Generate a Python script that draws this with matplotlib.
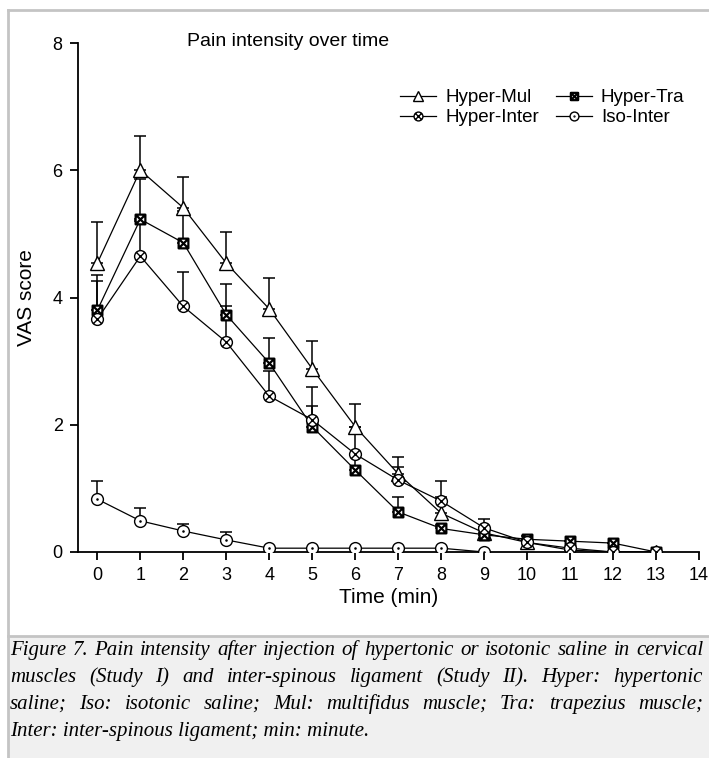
import numpy as np
import matplotlib
matplotlib.use("Agg")
import matplotlib.pyplot as plt
from matplotlib.path import Path
from matplotlib.patches import Rectangle
from matplotlib.lines import Line2D

# values
time_min = list(range(14))
iso_time = list(range(10))

hyper_mul = [4.54, 6.00, 5.41, 4.54, 3.82, 2.88, 1.97, 1.23, 0.61, 0.30, 0.15, 0.03, 0.00, 0.00]
hyper_mul_err = [0.65, 0.54, 0.49, 0.49, 0.49, 0.44, 0.36, 0.26, 0.25, 0.10, 0.05, 0.0, 0.0, 0.0]

hyper_tra = [3.80, 5.23, 4.86, 3.73, 2.97, 1.97, 1.29, 0.63, 0.37, 0.27, 0.20, 0.17, 0.14, 0.00]
hyper_tra_err = [0.55, 0.64, 0.50, 0.48, 0.40, 0.33, 0.25, 0.23, 0.05, 0.10, 0.05, 0.0, 0.0, 0.0]

hyper_inter = [3.66, 4.65, 3.86, 3.30, 2.45, 2.08, 1.54, 1.13, 0.80, 0.38, 0.15, 0.06, 0.00, 0.00]
hyper_inter_err = [0.60, 0.55, 0.54, 0.57, 0.40, 0.52, 0.43, 0.20, 0.32, 0.14, 0.05, 0.0, 0.0, 0.0]

iso_inter = [0.83, 0.49, 0.33, 0.19, 0.06, 0.06, 0.06, 0.06, 0.06, 0.00]
iso_inter_err = [0.29, 0.20, 0.11, 0.13, 0.0, 0.0, 0.0, 0.0, 0.0, 0.0]

caption_lines = [
    "Figure 7. Pain intensity after injection of hypertonic or isotonic saline in cervical",
    "muscles (Study I) and inter-spinous ligament (Study II).  Hyper: hypertonic",
    "saline; Iso: isotonic saline; Mul: multifidus muscle; Tra: trapezius muscle;",
    "Inter: inter-spinous ligament; min: minute.",
]

plt.rcParams["font.family"] = ["Liberation Sans", "DejaVu Sans"]

W, H = 709, 758
fig = plt.figure(figsize=(W / 100, H / 100), dpi=100)


def px(x, y):
    return x / W, 1 - y / H


# marker shapes: boxed x, circled x, circle with a dot
M, L, C = Path.MOVETO, Path.LINETO, Path.CLOSEPOLY
box_x = Path(
    [(-1, -1), (1, -1), (1, 1), (-1, 1), (-1, -1), (-1, -1), (1, 1), (-1, 1), (1, -1)],
    [M, L, L, L, C, M, L, M, L],
)
r = 0.7071
circ_x = Path.make_compound_path(
    Path.unit_circle(),
    Path([(-r, -r), (r, r), (-r, r), (r, -r)], [M, L, M, L]),
)
circ_dot = Path.make_compound_path(Path.unit_circle(), Path.circle((0, 0), 0.1))

# frame and caption box
fig.add_artist(Line2D([8 / W, 8 / W], [0, 1 - 10 / H], color="#c4c4c4", lw=2))
fig.add_artist(Line2D([8 / W, 1], [1 - 10 / H, 1 - 10 / H], color="#c4c4c4", lw=2))
fig.add_artist(Rectangle((8 / W, 0), 1, 1 - 636 / H, facecolor="#f0f0f0",
                         edgecolor="none", zorder=0))
fig.add_artist(Line2D([8 / W, 1], [1 - 636 / H, 1 - 636 / H], color="#c4c4c4", lw=2))

ax = fig.add_axes([78 / W, 1 - 552 / H, (699 - 78) / W, (552 - 43) / H])
ax.set_facecolor("none")

series = [
    ("Hyper-Mul", time_min, hyper_mul, hyper_mul_err, "^", 9.5, 1.0),
    ("Hyper-Tra", time_min, hyper_tra, hyper_tra_err, box_x, 7, 1.6),
    ("Hyper-Inter", time_min, hyper_inter, hyper_inter_err, circ_x, 8.5, 1.0),
    ("Iso-Inter", iso_time, iso_inter, iso_inter_err, circ_dot, 8.5, 1.0),
]

handles = {}
for name, xs, ys, err, marker, size, mew in series:
    ax.errorbar(xs, ys, yerr=[np.zeros(len(err)), err], fmt="none", ecolor="black",
                elinewidth=1.1, capsize=4.5, capthick=1.1, zorder=2)
    line, = ax.plot(xs, ys, color="black", lw=0.9, marker=marker, markersize=size,
                    markerfacecolor="white", markeredgecolor="black",
                    markeredgewidth=mew, label=name, zorder=3)
    handles[name] = line

ax.set_xlim(-0.45, 14)
ax.set_ylim(0, 8)
ax.set_xticks(range(15))
ax.set_yticks([0, 2, 4, 6, 8])
for side in ("top", "right"):
    ax.spines[side].set_visible(False)
for side in ("left", "bottom"):
    ax.spines[side].set_linewidth(1.3)
ax.tick_params(direction="out", length=6, width=1.3, labelsize=13, pad=5)
ax.set_xlabel("Time (min)", fontsize=15, labelpad=3)
ax.set_ylabel("VAS score", fontsize=15, labelpad=12)

fig.text(*px(288, 41), "Pain intensity over time", fontsize=14, ha="center", va="center")

# legend fills column-wise: order so rows read Mul/Tra then Inter/Iso
leg_order = ["Hyper-Mul", "Hyper-Inter", "Hyper-Tra", "Iso-Inter"]
ax.legend(handles=[handles[k] for k in leg_order], ncol=2, loc="upper left",
          bbox_to_anchor=px(391, 80), bbox_transform=fig.transFigure,
          frameon=False, fontsize=13.5, markerscale=0.75,
          handlelength=1.9, handletextpad=0.5, columnspacing=0.9,
          labelspacing=0.15, borderpad=0.0)

# justified caption, italic serif
cap_font = dict(family=["Liberation Serif", "DejaVu Serif"], style="italic",
                fontsize=15.0, va="baseline")
x_left, x_right = 10, 703
baselines = [655, 682, 709, 736]
renderer = fig.canvas.get_renderer()
for i, (text, base) in enumerate(zip(caption_lines, baselines)):
    y = 1 - base / H
    if i == len(caption_lines) - 1:
        fig.text(x_left / W, y, text, ha="left", **cap_font)
        continue
    words = text.split()
    arts = [fig.text(0, y, w, ha="left", **cap_font) for w in words]
    widths = [a.get_window_extent(renderer).width for a in arts]
    gap = (x_right - x_left - sum(widths)) / (len(words) - 1)
    x = x_left
    for a, w in zip(arts, widths):
        a.set_x(x / W)
        x += w + gap

fig.savefig("out.png", dpi=100)
